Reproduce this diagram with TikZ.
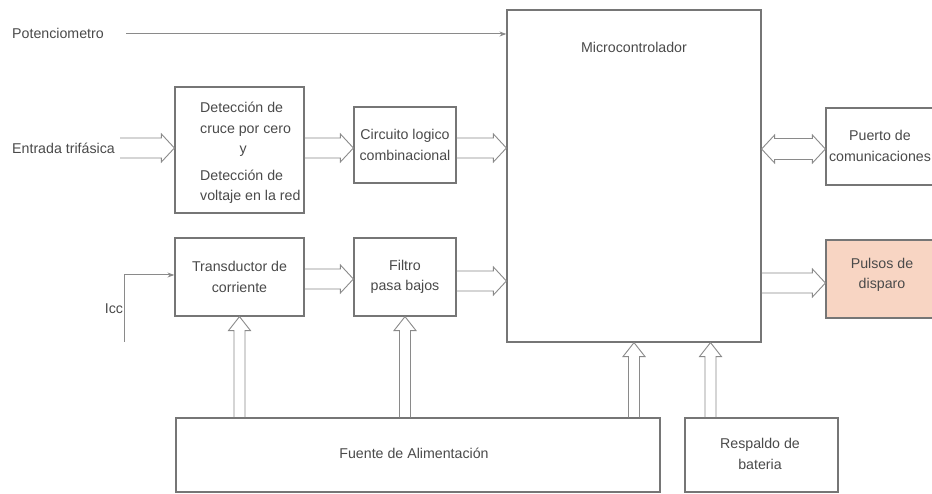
\documentclass[tikz,border=0pt]{standalone}
\usepackage{fontspec}
\setmainfont{Liberation Sans}
\usetikzlibrary{calc,arrows.meta}

\definecolor{boxline}{HTML}{767676}
\definecolor{arrowline}{HTML}{8A8A8A}
\definecolor{txtgray}{HTML}{4A4A4A}
\definecolor{pulsefill}{HTML}{F8D5C3}

\tikzset{
  x=1pt, y=-1pt,
  lbl/.style={inner sep=0pt, text=txtgray, font=\fontsize{14.2}{20.5}\selectfont, align=center},
  box/.style={draw=boxline, line width=1.2pt, fill=white, inner sep=0pt},
  % hollow block arrow: #1 half shaft width, #2 half head width, #3 head length
  blockarrow/.style n args={3}{draw=arrowline, line width=0.9pt,
    to path={
      ($(\tikztotarget)!#3!(\tikztostart)$) coordinate (bah)
      ($(\tikztostart)!#1!90:(\tikztotarget)$)
      -- ($(bah)!#1!90:(\tikztotarget)$)
      -- ($(bah)!#2!90:(\tikztotarget)$)
      -- (\tikztotarget)
      -- ($(bah)!#2!-90:(\tikztotarget)$)
      -- ($(bah)!#1!-90:(\tikztotarget)$)
      -- ($(\tikztostart)!#1!-90:(\tikztotarget)$)
    }},
  % hollow block arrow with a head at each end
  bothblock/.style n args={3}{draw=arrowline, line width=0.9pt,
    to path={
      ($(\tikztostart)!#3!(\tikztotarget)$) coordinate (bas)
      ($(\tikztotarget)!#3!(\tikztostart)$) coordinate (bat)
      (\tikztostart)
      -- ($(bas)!#2!90:(\tikztotarget)$)
      -- ($(bas)!#1!90:(\tikztotarget)$)
      -- ($(bat)!#1!90:(\tikztotarget)$)
      -- ($(bat)!#2!90:(\tikztotarget)$)
      -- (\tikztotarget)
      -- ($(bat)!#2!-90:(\tikztotarget)$)
      -- ($(bat)!#1!-90:(\tikztotarget)$)
      -- ($(bas)!#1!-90:(\tikztotarget)$)
      -- ($(bas)!#2!-90:(\tikztotarget)$)
      -- cycle
    }},
  hbus/.style={blockarrow={10pt}{14pt}{13pt}},
  vbus/.style={blockarrow={5.5pt}{11pt}{14pt}},
  hbusboth/.style={bothblock={10.5pt}{14pt}{13pt}},
  signal/.style={draw=arrowline, line width=1pt, -{Stealth[length=7pt,width=5pt]}},
}

\begin{document}
\begin{tikzpicture}
\useasboundingbox[fill=white] (0,0) rectangle (932,494);

% blocks
\node[box, minimum width=254pt, minimum height=332pt] (micro) at (634,176) {};
\node[lbl] (microlbl) at ([yshift=-38pt]micro.north) {Microcontrolador};

\node[box, minimum width=129pt, minimum height=126pt] (det) at (239.5,150) {};
\node[lbl, anchor=west, align=left] (dettxt) at (200,153)
  {Detección de\\cruce por cero\\\hspace*{39.5pt}y\\[6pt]Detección de\\voltaje en la red};

\node[box, minimum width=102pt, minimum height=76pt] (circ) at (405,145)
  {\tikz[baseline]\node[lbl]{Circuito logico\\combinacional};};

\node[box, minimum width=129pt, minimum height=78pt] (trans) at (239.5,277)
  {\tikz[baseline]\node[lbl]{Transductor de\\corriente};};

\node[box, minimum width=102pt, minimum height=78pt] (filt) at (405,277)
  {\tikz[baseline]\node[lbl]{Filtro\\pasa bajos};};

\node[box, minimum width=120pt, minimum height=77pt] (puerto) at (886,146.5) {};
\node[lbl] (puertotxt) at (880,146) {Puerto de\\comunicaciones};

\node[box, fill=pulsefill, minimum width=120pt, minimum height=78pt] (pulsos) at (886,279) {};
\node[lbl] (pulsostxt) at (882,275) {Pulsos de\\disparo};

\node[box, minimum width=484pt, minimum height=74pt] (fuente) at (418,455) {};
\node[lbl] (fuentetxt) at (414,453) {Fuente de Alimentación};

\node[box, minimum width=153pt, minimum height=74pt] (resp) at (761.5,455) {};
\node[lbl] (resptxt) at (760,454) {Respaldo de\\bateria};

% free labels and loose ends
\node[lbl, anchor=west] (pot) at (12,33) {Potenciometro};
\node[lbl, anchor=west] (trif) at (12,148) {Entrada trifásica};
\node[lbl] (icc) at (114,309) {Icc};
\coordinate (potin) at (126,34);
\coordinate (trifin) at (120,148);
\coordinate (iccbot) at (124,342);
\coordinate (icccorner) at (124,275);
\coordinate (battop) at ([xshift=-51pt]resp.north);

% signal lines
\draw[signal] (potin) -- (micro.west |- potin);
\draw[signal] (iccbot) -- (icccorner) -- (trans.west |- icccorner);

% data buses
\draw[hbus] (trifin) to (det.west |- trifin);
\draw[hbus] (det.east |- trifin) to (circ.west |- trifin);
\draw[hbus] ([yshift=-3pt]circ.east) to ([yshift=-3pt]micro.west |- circ.east);
\draw[hbusboth] (micro.east |- 0,149) to (puerto.west |- 0,149);
\draw[hbus] ([yshift=-2pt]trans.east) to ([yshift=-2pt]filt.west);
\draw[hbus] ([yshift=-4pt]filt.east) to ([yshift=-4pt]micro.west |- filt.east);
\draw[hbus] (micro.east |- 0,283) to (pulsos.west |- 0,283);

% supply buses
\draw[vbus] (fuente.north -| trans.south) to (trans.south);
\draw[vbus] (fuente.north -| filt.south) to (filt.south);
\draw[vbus] (fuente.north -| micro.south) to (micro.south);
\draw[vbus] (battop) to (battop |- micro.south);
\end{tikzpicture}
\end{document}
